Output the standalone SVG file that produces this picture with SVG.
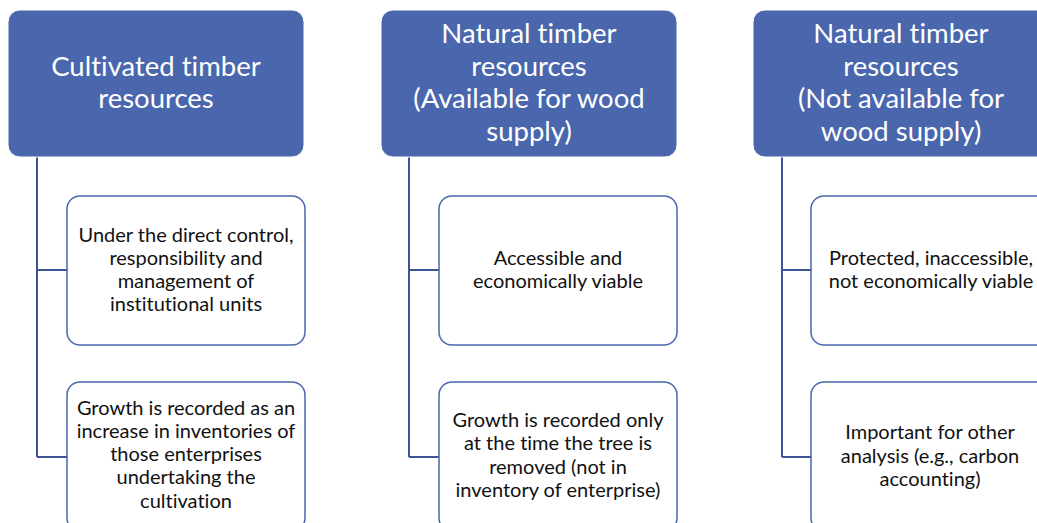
<svg xmlns="http://www.w3.org/2000/svg" width="1037" height="523" viewBox="0 0 1037 523">
  <style>
    text { font-family: Lato, "Open Sans", sans-serif; text-anchor: middle; font-variant-ligatures: none; }
    .head rect { fill: #4a67ad; stroke: #ffffff; stroke-width: 1; }
    .head text { fill: #ffffff; font-size: 27.5px; }
    .item rect { fill: #ffffff; stroke: #4a67ad; stroke-width: 1.5; }
    .item text { fill: #111111; font-size: 20px; }
    .link { fill: none; stroke: #3d5393; stroke-width: 2; }
  </style>
  <rect width="1037" height="523" fill="#ffffff"/>

  <g id="connectors">
    <path class="link" d="M37,157 V457 M37,270 H67 M37,457 H67"/>
    <path class="link" d="M409,157 V457 M409,270 H439 M409,457 H439"/>
    <path class="link" d="M782,157 V457 M782,270 H811 M782,457 H811"/>
  </g>

  <g id="cultivated" class="head">
    <rect x="8" y="10" width="296" height="147" rx="12"/>
    <text x="156" y="76">Cultivated timber</text>
    <text x="156" y="108">resources</text>
  </g>
  <g id="natural-available" class="head">
    <rect x="381" y="10" width="296" height="147" rx="12"/>
    <text x="529" y="43">Natural timber</text>
    <text x="529" y="76">resources</text>
    <text x="529" y="108">(Available for wood</text>
    <text x="529" y="141">supply)</text>
  </g>
  <g id="natural-unavailable" class="head">
    <rect x="753" y="10" width="296" height="147" rx="12"/>
    <text x="901" y="43">Natural timber</text>
    <text x="901" y="76">resources</text>
    <text x="901" y="108">(Not available for</text>
    <text x="901" y="141">wood supply)</text>
  </g>

  <g id="control" class="item">
    <rect x="67" y="196" width="238" height="149" rx="13"/>
    <text x="186" y="242">Under the direct control,</text>
    <text x="186" y="265">responsibility and</text>
    <text x="186" y="288">management of</text>
    <text x="186" y="311">institutional units</text>
  </g>
  <g id="growth-inventories" class="item">
    <rect x="67" y="382" width="238" height="149" rx="13"/>
    <text x="186" y="415">Growth is recorded as an</text>
    <text x="186" y="438">increase in inventories of</text>
    <text x="186" y="461">those enterprises</text>
    <text x="186" y="484">undertaking the</text>
    <text x="186" y="508">cultivation</text>
  </g>
  <g id="accessible" class="item">
    <rect x="439" y="196" width="238" height="149" rx="13"/>
    <text x="558" y="265">Accessible and</text>
    <text x="558" y="288">economically viable</text>
  </g>
  <g id="growth-removed" class="item">
    <rect x="439" y="382" width="238" height="149" rx="13"/>
    <text x="558" y="427">Growth is recorded only</text>
    <text x="558" y="450">at the time the tree is</text>
    <text x="558" y="474">removed (not in</text>
    <text x="558" y="497">inventory of enterprise)</text>
  </g>
  <g id="protected" class="item">
    <rect x="811" y="196" width="238" height="149" rx="13"/>
    <text x="931" y="265">Protected, inaccessible,</text>
    <text x="931" y="288">not economically viable</text>
  </g>
  <g id="other-analysis" class="item">
    <rect x="811" y="382" width="238" height="149" rx="13"/>
    <text x="930" y="439">Important for other</text>
    <text x="930" y="463">analysis (e.g., carbon</text>
    <text x="930" y="486">accounting)</text>
  </g>
</svg>
